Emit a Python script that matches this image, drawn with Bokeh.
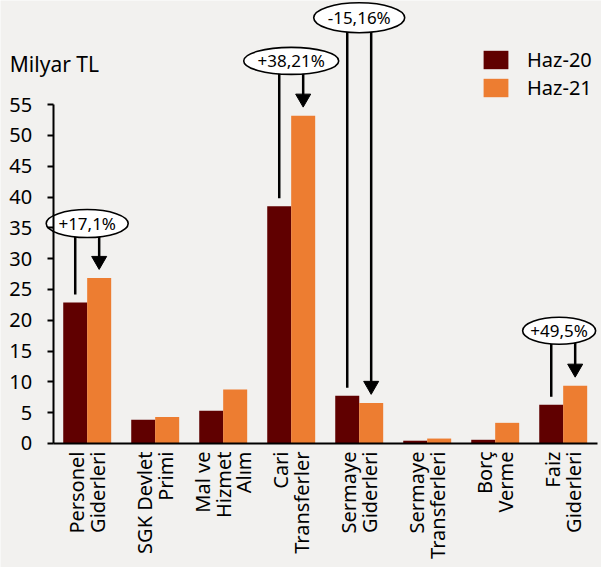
import math
from bokeh.plotting import figure
from bokeh.models import ColumnDataSource, Range1d, FixedTicker, Legend, LegendItem
from bokeh.transform import dodge
from bokeh.core.properties import value
from bokeh.embed import file_html
from bokeh.resources import INLINE

# ---------------- data ----------------
categories = ["Personel\nGiderleri", "SGK Devlet\nPrimi", "Mal ve\nHizmet\nAlım",
              "Cari\nTransferler", "Sermaye\nGiderleri", "Sermaye\nTransferleri",
              "Borç\nVerme", "Faiz\nGiderleri"]
haz20 = [22.9, 3.85, 5.3, 38.5, 7.75, 0.45, 0.6, 6.28]
haz21 = [26.86, 4.3, 8.77, 53.2, 6.58, 0.8, 3.35, 9.37]
series_names = ["Haz-20", "Haz-21"]
y_ticks = [0, 5, 10, 15, 20, 25, 30, 35, 40, 45, 50, 55]
unit_label = "Milyar TL"

ann_index = [0, 3, 4, 7]
ann_labels = ["+17,1%", "+38,21%", "-15,16%", "+49,5%"]

# ---------------- layout / style ----------------
ann_level = [35.7, 62.1, 69.1, 18.3]      # bubble centre height (axis units)
ann_width = [82, 95, 91, 73]             # bubble width (px)
ann_height = [28, 27, 30, 27]            # bubble height (px)
ann_shift = [0.0, 0.0, 0.0, -0.06]       # bubble horizontal shift (category units)

BG = "#F2F1EF"
C20 = "#600000"
C21 = "#ED7D31"
FONT = "Noto Sans"

n = len(categories)
centers = [i + 0.5 for i in range(n)]

p = figure(x_range=Range1d(-0.775, 8.063), y_range=Range1d(-20.13, 71.9),
           width=601, height=567, output_backend="svg", toolbar_location=None,
           min_border_left=0, min_border_right=0, min_border_top=0, min_border_bottom=0)
p.background_fill_color = BG
p.border_fill_color = BG
p.outline_line_color = None
p.xgrid.grid_line_color = None
p.ygrid.grid_line_color = None

src = ColumnDataSource(dict(x=centers, h20=haz20, h21=haz21))
r20 = p.vbar(x=dodge("x", -0.176), top="h20", width=0.353,
             source=src, fill_color=C20, line_color=None)
r21 = p.vbar(x=dodge("x", 0.176), top="h21", width=0.353,
             source=src, fill_color=C21, line_color=None)

# change annotations
for idx, lab, lvl, w, h, sh in zip(ann_index, ann_labels, ann_level, ann_width, ann_height, ann_shift):
    a = haz20[idx]
    b = haz21[idx]
    s = ColumnDataSource(dict(x=[centers[idx]], a=[a + 1.3], b=[b + 2.8], lvl=[lvl], lab=[lab]))
    p.segment(x0=dodge("x", -0.176), x1=dodge("x", -0.176), y0="lvl", y1="a",
              source=s, line_color="black", line_width=2.5)
    p.segment(x0=dodge("x", 0.176), x1=dodge("x", 0.176), y0="lvl", y1="b",
              source=s, line_color="black", line_width=2.5)
    p.scatter(x=dodge("x", 0.176), y="b", source=s, marker="inverted_triangle",
              size=15, fill_color="black", line_color="black")
    p.ellipse(x=dodge("x", sh), y="lvl", width=w, height=h,
              width_units="screen", height_units="screen", source=s,
              fill_color="white", line_color="black", line_width=1.6)
    p.text(x=dodge("x", sh), y="lvl", text="lab", source=s,
           text_align="center", text_baseline="middle", text_font=value(FONT),
           text_font_size="17px", text_color="black")

# unit label
p.text(x=[-0.638], y=[61.57], text=[unit_label], text_align="left", text_baseline="alphabetic",
       text_font=value(FONT), text_font_size="21px", text_color="black")

# axes
yax = p.yaxis[0]
yax.fixed_location = 0
yax.ticker = FixedTicker(ticks=y_ticks)
yax.bounds = (0, 55)
yax.axis_line_width = 2
yax.axis_line_color = "black"
yax.major_tick_line_width = 2
yax.major_tick_line_color = "black"
yax.major_tick_out = 6
yax.major_tick_in = 0
yax.minor_tick_line_color = None
yax.major_label_standoff = 15
yax.major_label_text_font = FONT
yax.major_label_text_font_size = "20px"
yax.major_label_text_color = "black"

xax = p.xaxis[0]
xax.fixed_location = 0
xax.ticker = FixedTicker(ticks=centers)
xax.major_label_overrides = {c: lab for c, lab in zip(centers, categories)}
xax.bounds = (0, n)
xax.axis_line_width = 2
xax.axis_line_color = "black"
xax.major_tick_line_color = None
xax.major_tick_out = 0
xax.minor_tick_line_color = None
xax.major_label_orientation = math.pi / 2
xax.major_label_standoff = 8
xax.major_label_text_font = FONT
xax.major_label_text_font_size = "20px"
xax.major_label_text_line_height = 0.76
xax.major_label_text_color = "black"

# legend
legend = Legend(items=[LegendItem(label=series_names[0], renderers=[r20]),
                       LegendItem(label=series_names[1], renderers=[r21])],
                location=(480, 466), orientation="vertical",
                glyph_width=31, glyph_height=23, spacing=1, label_standoff=16,
                padding=0, margin=0, background_fill_alpha=0, border_line_alpha=0,
                label_text_font=FONT, label_text_font_size="20px", label_text_color="black")
p.add_layout(legend, "center")

open("out.html", "w").write(file_html(p, INLINE))
